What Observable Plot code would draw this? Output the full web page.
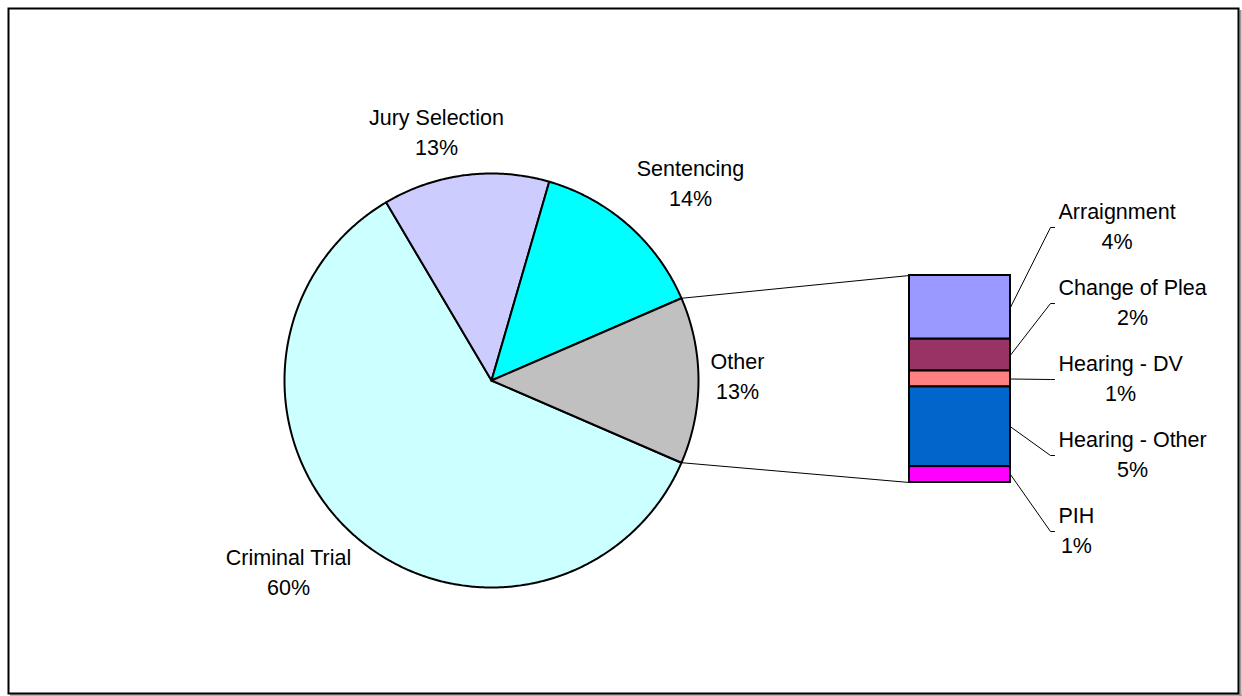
<!DOCTYPE html>
<html><head><meta charset="utf-8">
<script src="https://cdn.jsdelivr.net/npm/d3@7"></script>
<script src="https://cdn.jsdelivr.net/npm/@observablehq/plot@0.6"></script>
<style>body{margin:0;background:#fff;}</style>
</head><body><div id="chart"></div>
<script>
// ---- data ----
const pieLabels = ["Criminal Trial", "Jury Selection", "Sentencing", "Other"];
const pieValues = [60, 13, 14, 13];
const pieColors = ["#CCFFFF", "#CCCCFF", "#00FFFF", "#C0C0C0"];
const barLabels = ["Arraignment", "Change of Plea", "Hearing - DV", "Hearing - Other", "PIH"];
const barValues = [4, 2, 1, 5, 1];
const barColors = ["#9999FF", "#993366", "#FF8080", "#0066CC", "#FF00FF"];

// ---- layout ----
const W = 1242, H = 696;
const cx = 491, cy = 380, R = 207;
const barX1 = 909, barX2 = 1010, barTop = 275, barH = 207;
const pieLabelOffset = [[-203, 193], [-55, -247], [199, -196], [246, -3]];
const leaderX = 1050, leaderTail = 4, barLabelLeft = 1058, barLabelMid = 379, barLabelStep = 76;
const FONT = "Liberation Sans, Arial, sans-serif";
const FS = 21.5;

const total = d3.sum(pieValues);
const otherIdx = pieValues.length - 1;
const start = Math.PI / 2 + Math.PI * pieValues[otherIdx] / total;
const arcs = d3.pie().sort(null).startAngle(start).endAngle(start + 2 * Math.PI)(pieValues);
const pt = (a, r) => ({x: cx + r * Math.sin(a), y: cy - r * Math.cos(a)});

const sliceMarks = arcs.map((a, i) => {
  const n = Math.max(2, Math.ceil((a.endAngle - a.startAngle) / (Math.PI / 360)));
  const poly = [{x: cx, y: cy}];
  for (let k = 0; k <= n; k++) poly.push(pt(a.startAngle + (a.endAngle - a.startAngle) * k / n, R));
  poly.push({x: cx, y: cy});
  return Plot.line(poly, {x: "x", y: "y", fill: pieColors[i], stroke: "black", strokeWidth: 2, strokeLinejoin: "round"});
});

const fmt = v => `${Math.round(v)}%`;
const pieText = arcs.map((a, i) => ({
  x: cx + pieLabelOffset[i][0], y: cy + pieLabelOffset[i][1],
  text: `${pieLabels[i]}\n${fmt(pieValues[i])}`
}));

// bar segments
const barTotal = d3.sum(barValues);
const k = barH / barTotal;
let cum = 0;
const barData = barValues.map((v, i) => {
  const d = {y1: barTop + cum * k, y2: barTop + (cum + v) * k, color: barColors[i], label: barLabels[i], value: v};
  cum += v;
  return d;
});

// connectors from the "Other" slice to the bar
const otherArc = arcs[otherIdx];
const pA = pt(otherArc.startAngle, R), pB = pt(otherArc.endAngle, R);
const connectors = [
  {x1: pA.x, y1: pA.y, x2: barX1, y2: barTop},
  {x1: pB.x, y1: pB.y, x2: barX1, y2: barTop + barH}
];

// bar labels
const ctx = document.createElement("canvas").getContext("2d");
ctx.font = `${FS}px ${FONT}`;
const leaders = [];
const barText = barData.map((d, i) => {
  const ly = barLabelMid + (i - 2) * barLabelStep;
  const mid = (d.y1 + d.y2) / 2;
  leaders.push({x: barX2, y: mid, z: i}, {x: leaderX, y: ly, z: i}, {x: leaderX + leaderTail, y: ly, z: i});
  const t2 = fmt(d.value);
  const w = Math.max(ctx.measureText(d.label).width, ctx.measureText(t2).width);
  return {x: barLabelLeft + w / 2, y: ly, text: `${d.label}\n${t2}`};
});

const textOpts = {x: "x", y: "y", text: "text", fontSize: FS, fontFamily: FONT, fill: "black",
  lineHeight: 1.38, lineAnchor: "middle", textAnchor: "middle", dy: -3};

const chart = Plot.plot({
  width: W, height: H,
  margin: 0,
  x: {domain: [0, W], range: [0, W], axis: null},
  y: {domain: [0, H], range: [0, H], axis: null},
  color: {type: "identity"},
  style: {background: "white", fontFamily: FONT},
  marks: [
    Plot.ruleX([W - 2], {y1: 10, y2: H, stroke: "#9a9a9a", strokeWidth: 2}),
    Plot.ruleY([H - 1.5], {x1: 10, x2: W, stroke: "#9a9a9a", strokeWidth: 1.5}),
    Plot.frame({stroke: "black", strokeWidth: 2, insetLeft: 8, insetTop: 8, insetRight: 4, insetBottom: 3}),
    ...sliceMarks,
    Plot.link(connectors, {x1: "x1", y1: "y1", x2: "x2", y2: "y2", stroke: "black", strokeWidth: 1}),
    Plot.rect(barData, {x1: () => barX1, x2: () => barX2, y1: "y1", y2: "y2", fill: "color", stroke: "black", strokeWidth: 2}),
    Plot.line(leaders, {x: "x", y: "y", z: "z", stroke: "black", strokeWidth: 1}),
    Plot.text(pieText, textOpts),
    Plot.text(barText, textOpts)
  ]
});
document.getElementById("chart").appendChild(chart);
</script>
</body></html>
